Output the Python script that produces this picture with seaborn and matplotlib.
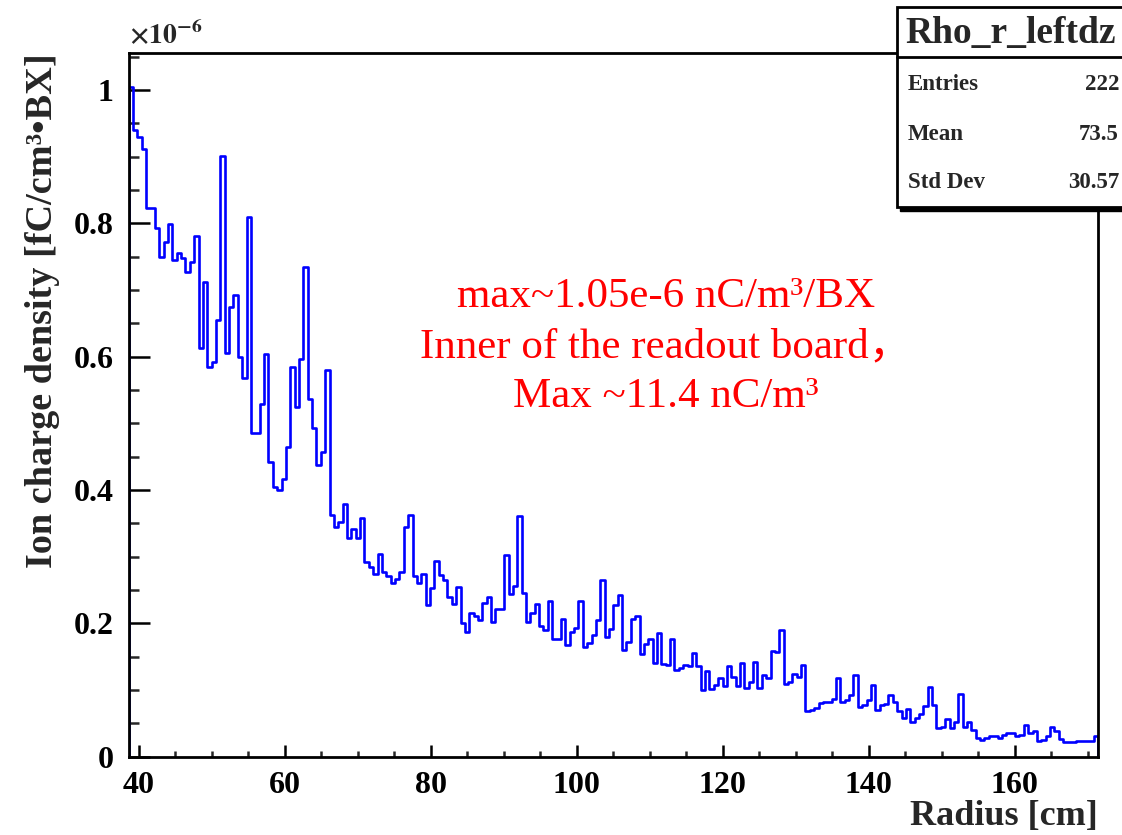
import numpy as np
import pandas as pd
import matplotlib
matplotlib.use("Agg")
import matplotlib.pyplot as plt
from matplotlib.patches import Rectangle
from matplotlib.lines import Line2D
from matplotlib.ticker import MultipleLocator, FuncFormatter
import seaborn as sns

# Histogram range (cm) and per-bin ion charge density in units of 1e-6
r_min, r_max = 38.6, 171.4
density_e6 = [
    1.005, 0.940, 0.930, 0.911, 0.8235, 0.8235, 0.7925, 0.750, 0.7725, 0.799,
    0.745, 0.755, 0.7485, 0.7275, 0.7425, 0.7815, 0.6125, 0.7115, 0.585, 0.5925,
    0.655, 0.9015, 0.605, 0.674, 0.6925, 0.599, 0.5685, 0.810, 0.486, 0.486,
    0.5285, 0.604, 0.4415, 0.404, 0.400, 0.4165, 0.465, 0.585, 0.524, 0.596,
    0.735, 0.536, 0.4925, 0.4375, 0.4575, 0.580, 0.3625, 0.344, 0.352, 0.379,
    0.3275, 0.341, 0.3275, 0.3585, 0.2915, 0.285, 0.274, 0.304, 0.2775, 0.2715,
    0.260, 0.2665, 0.2765, 0.344, 0.363, 0.2715, 0.260, 0.274, 0.2275, 0.2525,
    0.293, 0.272, 0.265, 0.240, 0.229, 0.254, 0.200, 0.1875, 0.216, 0.211,
    0.205, 0.230, 0.240, 0.2025, 0.221, 0.221, 0.3025, 0.244, 0.256, 0.361,
    0.245, 0.2025, 0.215, 0.229, 0.196, 0.190, 0.234, 0.176, 0.176, 0.206,
    0.1675, 0.1875, 0.1925, 0.234, 0.164, 0.171, 0.1826, 0.2046, 0.2643, 0.1796,
    0.1909, 0.2276, 0.2423, 0.160, 0.1713, 0.2066, 0.2105, 0.1542, 0.1689, 0.1762,
    0.141, 0.185, 0.1385, 0.137, 0.1762, 0.1307, 0.1331, 0.137, 0.136, 0.1552,
    0.1356, 0.1003, 0.1287, 0.1013, 0.1077, 0.1185, 0.1062, 0.1356, 0.1199, 0.1067,
    0.1405, 0.1028, 0.1126, 0.1419, 0.1028, 0.1224, 0.1175, 0.1591, 0.1576, 0.1894,
    0.1092, 0.1126, 0.1238, 0.1199, 0.137, 0.0685, 0.070, 0.0734, 0.0798, 0.0817,
    0.0817, 0.0866, 0.1185, 0.0817, 0.0847, 0.093, 0.1224, 0.0744, 0.0773, 0.0847,
    0.1077, 0.070, 0.0768, 0.0783, 0.093, 0.0817, 0.0685, 0.0578, 0.072, 0.0514,
    0.0587, 0.0636, 0.0759, 0.1038, 0.0768, 0.0426, 0.045, 0.0563, 0.0426, 0.0514,
    0.0945, 0.0441, 0.0514, 0.0406, 0.0279, 0.0255, 0.0279, 0.0303, 0.0303, 0.0284,
    0.0328, 0.0352, 0.0352, 0.0303, 0.0328, 0.0475, 0.0352, 0.0392, 0.0235, 0.0255,
    0.0303, 0.045, 0.0392, 0.0269, 0.0215, 0.0215, 0.0215, 0.0235, 0.0235, 0.0235,
    0.0235, 0.0303,
]

stats_title = "Rho_r_leftdz"
stats_labels = ["Entries", "Mean", "Std Dev"]
stats_values = ["222", "73.5", "30.57"]

note_lines = [
    "max~1.05e-6 nC/m³/BX",
    "Inner of the readout board，",
    "Max ~11.4 nC/m³",
]

x_label = "Radius [cm]"
y_label = "Ion charge density [fC/cm³•BX]"

n_bins = len(density_e6)
bin_w = (r_max - r_min) / n_bins
centers = r_min + bin_w * (np.arange(n_bins) + 0.5)
df = pd.DataFrame({"radius": centers, "density": density_e6})

sns.set_theme(style="ticks")
plt.rcParams["font.family"] = ["Liberation Serif", "Noto Sans CJK SC"]
plt.rcParams["font.weight"] = "bold"
plt.rcParams["mathtext.fontset"] = "stix"

W, H = 1122, 835
fig = plt.figure(figsize=(W / 100, H / 100), dpi=100)
fig.patch.set_facecolor("white")

ax_l, ax_r, ax_t, ax_b = 128.7, 1098.0, 53.3, 756.7
ax = fig.add_axes([ax_l / W, 1 - ax_b / H, (ax_r - ax_l) / W, (ax_b - ax_t) / H])
ax.set_facecolor("white")

line_color = "#0000ff"
sns.histplot(data=df, x="radius", weights="density", bins=n_bins,
             binrange=(r_min, r_max), element="step", fill=False,
             color=line_color, linewidth=1.9, ax=ax)
# closing verticals of the step outline down to zero
ax.vlines([r_min, r_max], 0, [density_e6[0], density_e6[-1]],
          color=line_color, linewidth=1.9)

ax.set_xlim(r_min, r_max)
ax.set_ylim(0, 1.055)

ax.xaxis.set_major_locator(MultipleLocator(20))
ax.xaxis.set_minor_locator(MultipleLocator(5))
ax.yaxis.set_major_locator(MultipleLocator(0.2))
ax.yaxis.set_minor_locator(MultipleLocator(0.05))
ax.yaxis.set_major_formatter(FuncFormatter(lambda v, p: f"{v:g}"))
ax.xaxis.set_major_formatter(FuncFormatter(lambda v, p: f"{v:g}"))

ax.tick_params(axis="x", which="major", direction="in", length=9, width=1.8,
               labelsize=23, pad=10, colors="black")
ax.tick_params(axis="x", which="minor", direction="in", length=4.5, width=1.8)
ax.tick_params(axis="y", which="major", direction="in", length=15, width=1.8,
               labelsize=23, pad=11, colors="black")
ax.tick_params(axis="y", which="minor", direction="in", length=7.5, width=1.8)
for s in ax.spines.values():
    s.set_visible(True)
    s.set_linewidth(2.0)
    s.set_color("black")

ax.set_xlabel(x_label, fontsize=26, fontweight="bold", loc="right", labelpad=0.5)
ax.set_ylabel(y_label, fontsize=27.5, fontweight="bold", loc="top", labelpad=10)

fig.text(ax_l / W, 1 - 50 / H, r"$\times10^{-6}$", fontsize=20,
         ha="left", va="bottom")

# statistics box
bx0, bx1, by0, by1 = 897, 1135, 7, 207
shadow = Rectangle(((bx0 + 3) / W, 1 - (by1 + 4) / H), (bx1 - bx0) / W,
                   (by1 - by0) / H, transform=fig.transFigure,
                   facecolor="black", edgecolor="black", zorder=10)
box = Rectangle((bx0 / W, 1 - by1 / H), (bx1 - bx0) / W, (by1 - by0) / H,
                transform=fig.transFigure, facecolor="white",
                edgecolor="black", linewidth=2, zorder=11)
fig.add_artist(shadow)
fig.add_artist(box)
fig.add_artist(Line2D([bx0 / W, 1], [1 - 57 / H, 1 - 57 / H],
                      transform=fig.transFigure, color="black", lw=2, zorder=12))
fig.text(1011 / W, 1 - 33 / H, stats_title, fontsize=27, fontweight="bold",
         ha="center", va="center", zorder=13)
for i, (lab, val) in enumerate(zip(stats_labels, stats_values)):
    yy = 1 - (85 + 49 * i) / H
    fig.text(908 / W, yy, lab, fontsize=16.5, fontweight="bold",
             ha="left", va="center", zorder=13)
    fig.text(1119 / W, yy, val, fontsize=16.5, fontweight="bold",
             ha="right", va="center", zorder=13)

# annotation
for i, line in enumerate(note_lines):
    fig.text(666 / W, 1 - (297 + 50 * i) / H, line, fontsize=31,
             fontweight="normal", color="#ff0000", ha="center", va="center")

fig.savefig("out.png", dpi=100, facecolor="white")
